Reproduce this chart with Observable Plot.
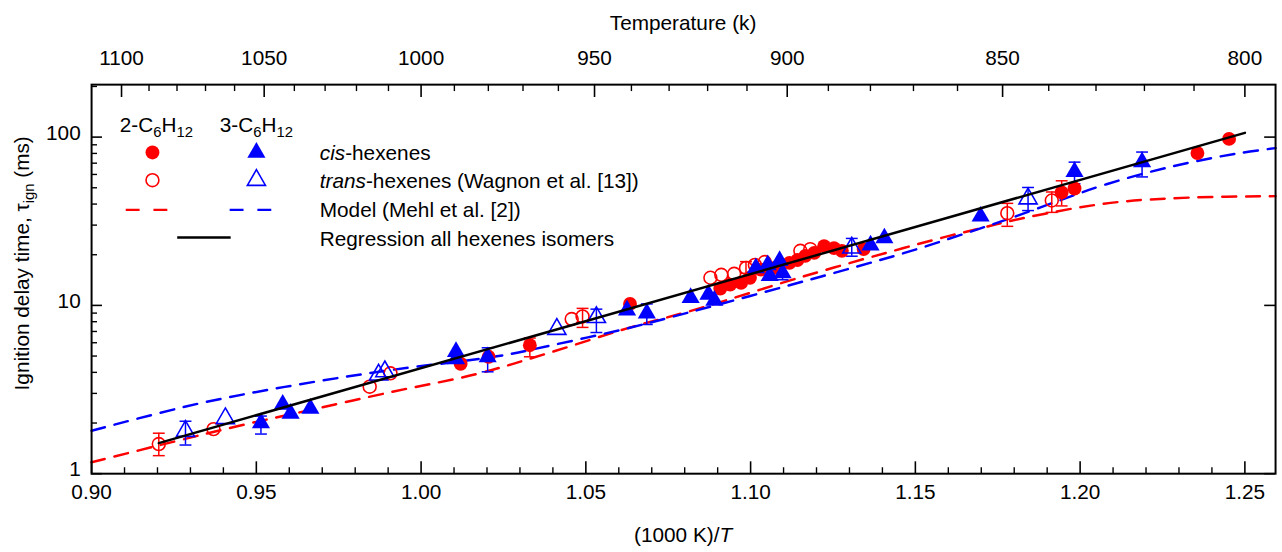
<!DOCTYPE html>
<html><head><meta charset="utf-8">
<script src="https://cdn.jsdelivr.net/npm/d3@7"></script>
<script src="https://cdn.jsdelivr.net/npm/@observablehq/plot@0.6"></script>
<style>
html,body{margin:0;padding:0;background:#fff;overflow:hidden;}
#chart{width:1282px;height:552px;overflow:hidden;}
</style></head><body><div id="chart"></div>
<script>
// ---------- data ----------
const redCisX  = [1.012, 1.0205, 1.033, 1.0634, 1.0908, 1.0938, 1.0971, 1.0998, 1.1031, 1.1073, 1.1118, 1.1142, 1.1166, 1.1193, 1.1223, 1.1253, 1.1277, 1.1343, 1.1944, 1.1983, 1.2356, 1.2452];
const redCisY  = [4.5, 4.95, 5.8, 10.2, 12.6, 13.3, 13.6, 14.6, 16.3, 16.7, 17.9, 18.6, 19.7, 20.5, 22.5, 21.9, 21.1, 21.6, 46.9, 49.5, 80.4, 97.6];
const redTransX = [0.9204, 0.937, 0.9844, 0.9907, 1.0457, 1.049, 1.0878, 1.0911, 1.095, 1.0986, 1.1013, 1.1043, 1.1151, 1.1181, 1.1779, 1.1914];
const redTransY = [1.5, 1.84, 3.29, 3.95, 8.3, 8.6, 14.6, 15.2, 15.4, 16.7, 17.4, 18.1, 21.1, 21.6, 35.3, 42.0];
const blueCisX = [0.9514, 0.958, 0.9604, 0.9664, 1.0106, 1.0106, 1.0202, 1.0625, 1.0685, 1.0818, 1.0872, 1.089, 1.1016, 1.1052, 1.1058, 1.1088, 1.1097, 1.1364, 1.1406, 1.1698, 1.1983, 1.2188];
const blueCisY = [2.0, 2.58, 2.28, 2.44, 5.3, 4.8, 4.94, 9.36, 8.98, 11.1, 11.6, 10.7, 16.7, 17.4, 15.0, 18.4, 15.6, 22.8, 25.1, 33.8, 62.2, 71.2];
const blueTransX = [0.9285, 0.9406, 0.9871, 0.989, 1.0412, 1.0532, 1.1307, 1.1842];
const blueTransY = [1.79, 2.13, 3.87, 4.05, 7.23, 8.5, 22.0, 43.1];

const redModelX = [0.900, 0.925, 0.9445, 0.9625, 0.9917, 1.0166, 1.0385, 1.0625, 1.0829, 1.1167, 1.1467, 1.160, 1.170, 1.178, 1.198, 1.213, 1.233, 1.2593];
const redModelY = [1.17, 1.55, 1.92, 2.3, 3.08, 3.9, 5.2, 7.3, 9.4, 15.0, 22.0, 25.8, 28.8, 31.5, 37.7, 41.4, 43.7, 44.6];
const blueModelX = [0.900, 0.9325, 0.9625, 0.9917, 1.0235, 1.0397, 1.0625, 1.0767, 1.1167, 1.1467, 1.160, 1.170, 1.178, 1.193, 1.208, 1.228, 1.247, 1.2593];
const blueModelY = [1.80, 2.61, 3.38, 4.15, 5.0, 5.8, 7.3, 8.6, 14.0, 20.5, 24.8, 28.8, 32.5, 41.5, 52.5, 67.0, 79.5, 86.0];
const regressionX = [0.9204, 1.25];
const regressionY = [1.52, 106];

const redErrX  = [0.9204, 1.033, 1.049, 1.0986, 1.1779, 1.1914, 1.1944];
const redErrLo = [1.28, 4.95, 7.4, 15.5, 29.5, 35.7, 39];
const redErrHi = [1.74, 6.4, 9.6, 18.2, 40.4, 47.2, 55];
const blueErrX  = [0.9285, 0.9514, 1.0202, 1.0532, 1.0685, 1.1097, 1.1307, 1.1842, 1.1983, 1.2188];
const blueErrLo = [1.48, 1.72, 4.03, 6.9, 7.7, 14.2, 19.6, 36.6, 52.8, 58];
const blueErrHi = [2.05, 2.2, 5.6, 9.5, 10.2, 16.8, 25.0, 50.2, 71, 81.5];

const xTickMajor = [0.90, 0.95, 1.00, 1.05, 1.10, 1.15, 1.20, 1.25];
const xTickLabels = ["0.90", "0.95", "1.00", "1.05", "1.10", "1.15", "1.20", "1.25"];
const tempMajor = [1100, 1050, 1000, 950, 900, 850, 800];
const tempLabels = ["1100", "1050", "1000", "950", "900", "850", "800"];
const yTickMajor = [1, 10, 100];
const yTickLabels = ["1", "10", "100"];

// ---------- build ----------
const pts = (xs, ys) => xs.map((x, i) => ({x, y: ys[i]}));
const errs = (xs, lo, hi) => xs.map((x, i) => ({x, lo: lo[i], hi: hi[i]}));
const RED = "#ff0000", BLUE = "#0000ff";
const FONT = "'Liberation Sans', Arial, Helvetica, sans-serif";
const W = 1295, H = 552, mL = 92, mR = 7, mT = 85, mB = 74;
const innerW = W - mL - mR, innerH = H - mT - mB;
const fs = 21, sub = 15;

const xMinor = d3.range(90, 126).map(d => d / 100).filter(d => !xTickMajor.some(m => Math.abs(m - d) < 1e-9));
const tempMinor = d3.range(800, 1101, 10).filter(t => !tempMajor.includes(t));
const yMinor = [2,3,4,5,6,7,8,9,20,30,40,50,60,70,80,90,200];
const cap = {draw(ctx) { ctx.moveTo(-6, 0); ctx.lineTo(6, 0); }};

const redE = errs(redErrX, redErrLo, redErrHi), blueE = errs(blueErrX, blueErrLo, blueErrHi);

const chart = Plot.plot({
  width: W, height: H,
  marginLeft: mL, marginRight: mR, marginTop: mT, marginBottom: mB,
  style: {fontFamily: FONT, fontSize: fs + "px", background: "white", overflow: "visible"},
  x: {domain: [0.90, 0.90 + innerW / 3328.6], axis: null},
  y: {type: "log", domain: [1, 205], axis: null},
  marks: [
    Plot.line(pts(redModelX, redModelY), {x: "x", y: "y", stroke: RED, strokeWidth: 2.5, strokeDasharray: "14,10", curve: "catmull-rom"}),
    Plot.line(pts(blueModelX, blueModelY), {x: "x", y: "y", stroke: BLUE, strokeWidth: 2.5, strokeDasharray: "14,10", curve: "catmull-rom"}),
    Plot.ruleX(redE, {x: "x", y1: "lo", y2: "hi", stroke: RED, strokeWidth: 1.5}),
    Plot.dot(redE, {x: "x", y: "lo", symbol: cap, fill: "none", stroke: RED, strokeWidth: 1.5}),
    Plot.dot(redE, {x: "x", y: "hi", symbol: cap, fill: "none", stroke: RED, strokeWidth: 1.5}),
    Plot.ruleX(blueE, {x: "x", y1: "lo", y2: "hi", stroke: BLUE, strokeWidth: 1.5}),
    Plot.dot(blueE, {x: "x", y: "lo", symbol: cap, fill: "none", stroke: BLUE, strokeWidth: 1.5}),
    Plot.dot(blueE, {x: "x", y: "hi", symbol: cap, fill: "none", stroke: BLUE, strokeWidth: 1.5}),
    Plot.dot(pts(redTransX, redTransY), {x: "x", y: "y", r: 6.5, fill: "none", stroke: RED, strokeWidth: 1.6}),
    Plot.dot(pts(redCisX, redCisY), {x: "x", y: "y", r: 7, fill: RED, stroke: "none"}),
    Plot.dot(pts(blueTransX, blueTransY), {x: "x", y: "y", r: 6.8, symbol: "triangle", fill: "none", stroke: BLUE, strokeWidth: 1.6}),
    Plot.dot(pts(blueCisX, blueCisY), {x: "x", y: "y", r: 6.8, symbol: "triangle", fill: BLUE, stroke: "none"}),
    Plot.line(pts(regressionX, regressionY), {x: "x", y: "y", stroke: "black", strokeWidth: 2.5}),
    Plot.tickX(xTickMajor, {x: d => d, stroke: "black", strokeWidth: 1.6, insetTop: innerH - 12}),
    Plot.tickX(xMinor, {x: d => d, stroke: "black", strokeWidth: 1.4, insetTop: innerH - 6}),
    Plot.tickX(tempMajor, {x: d => 1000 / d, stroke: "black", strokeWidth: 1.6, insetBottom: innerH - 13}),
    Plot.tickX(tempMinor, {x: d => 1000 / d, stroke: "black", strokeWidth: 1.4, insetBottom: innerH - 7}),
    Plot.tickY(yTickMajor, {y: d => d, stroke: "black", strokeWidth: 1.6, insetRight: innerW - 11}),
    Plot.tickY(yMinor, {y: d => d, stroke: "black", strokeWidth: 1.4, insetRight: innerW - 6}),
    Plot.tickY(yTickMajor, {y: d => d, stroke: "black", strokeWidth: 1.6, insetLeft: innerW - 11}),
    Plot.frame({stroke: "black", strokeWidth: 2}),
    Plot.text(xTickMajor, {x: d => d, text: (d, i) => xTickLabels[i], frameAnchor: "bottom", dy: 19, lineAnchor: "middle", fontSize: fs, fill: "black"}),
    Plot.text(tempMajor, {x: d => 1000 / d, text: (d, i) => tempLabels[i], frameAnchor: "top", dy: -27, lineAnchor: "middle", fontSize: fs, fill: "black"}),
    Plot.text(yTickMajor, {y: d => d, text: (d, i) => yTickLabels[i], frameAnchor: "left", dx: -11, dy: -4, textAnchor: "end", lineAnchor: "middle", fontSize: fs, fill: "black"})
  ]
});
document.getElementById("chart").appendChild(chart);

// ---------- titles & legend (added to the SVG) ----------
const svg = d3.select(chart);
function addText(x, y, parts, anchor = "start", transform = null) {
  const t = svg.append("text").attr("x", x).attr("y", y)
    .attr("font-family", FONT).attr("font-size", fs).attr("fill", "black").attr("text-anchor", anchor);
  if (transform) t.attr("transform", transform);
  let shifted = false;
  for (const p of parts) {
    const s = t.append("tspan").text(p.t);
    if (p.i) s.attr("font-style", "italic");
    if (p.sub && !shifted) { s.attr("dy", 5).attr("font-size", sub); shifted = true; }
    else if (p.sub) { s.attr("font-size", sub); }
    else if (!p.sub && shifted) { s.attr("dy", -5); shifted = false; }
  }
  return t;
}
const cx = mL + innerW / 2;
addText(cx, 30, [{t: "Temperature (k)"}], "middle");
addText(cx, 547, [{t: "(1000 K)/"}, {t: "T", i: true}], "middle");
addText(0, 0, [{t: "Ignition delay time, τ"}, {t: "ign", sub: true}, {t: " (ms)"}], "middle", "translate(29,266) rotate(-90)");

// legend
addText(121, 133, [{t: "2-C"}, {t: "6", sub: true}, {t: "H"}, {t: "12", sub: true}]);
addText(222, 133, [{t: "3-C"}, {t: "6", sub: true}, {t: "H"}, {t: "12", sub: true}]);
const lg = svg.append("g");
const tri = d3.symbol(d3.symbolTriangle, Math.PI * 6.8 * 6.8)();
lg.append("circle").attr("cx", 154).attr("cy", 154).attr("r", 7).attr("fill", RED);
lg.append("path").attr("transform", "translate(259,154)").attr("d", tri).attr("fill", BLUE);
lg.append("circle").attr("cx", 154).attr("cy", 182).attr("r", 6.5).attr("fill", "none").attr("stroke", RED).attr("stroke-width", 1.6);
lg.append("path").attr("transform", "translate(259,182)").attr("d", tri).attr("fill", "none").attr("stroke", BLUE).attr("stroke-width", 1.6);
lg.append("line").attr("x1", 127).attr("x2", 169).attr("y1", 212).attr("y2", 212).attr("stroke", RED).attr("stroke-width", 2.5).attr("stroke-dasharray", "14,14");
lg.append("line").attr("x1", 232).attr("x2", 274).attr("y1", 212).attr("y2", 212).attr("stroke", BLUE).attr("stroke-width", 2.5).attr("stroke-dasharray", "14,14");
lg.append("line").attr("x1", 179).attr("x2", 233).attr("y1", 240).attr("y2", 240).attr("stroke", "black").attr("stroke-width", 2.5);
addText(323, 162, [{t: "cis", i: true}, {t: "-hexenes"}]);
addText(323, 190, [{t: "trans", i: true}, {t: "-hexenes (Wagnon et al. [13])"}]);
addText(323, 219, [{t: "Model (Mehl et al. [2])"}]);
addText(323, 248, [{t: "Regression all hexenes isomers"}]);
</script>
</body></html>
